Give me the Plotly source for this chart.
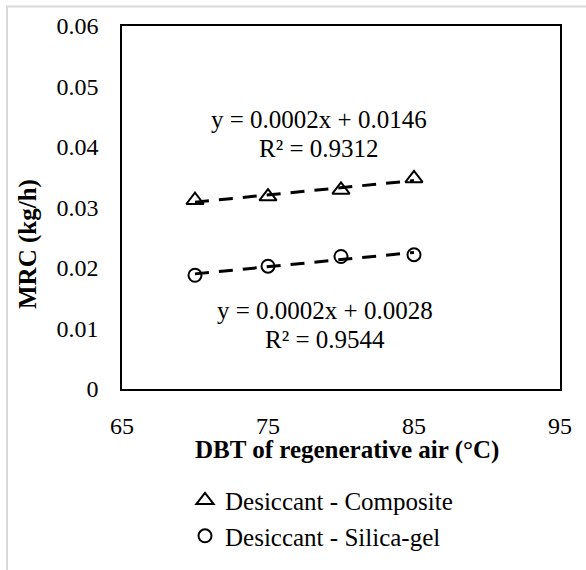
import numpy as np
import plotly.graph_objects as go

# Regeneration air dry-bulb temperature (°C)
dbt = [70, 75, 80, 85]
# Moisture removal capacity (kg/h)
mrc_composite = [0.0312, 0.0318, 0.0329, 0.0348]
mrc_silica = [0.0188, 0.0203, 0.0219, 0.0222]

series_names = ["Desiccant - Composite", "Desiccant - Silica-gel"]
eq_composite = ["y = 0.0002x + 0.0146", "R² = 0.9312"]
eq_silica = ["y = 0.0002x + 0.0028", "R² = 0.9544"]

x_ticks = [65, 75, 85, 95]
y_ticks = [0, 0.01, 0.02, 0.03, 0.04, 0.05, 0.06]
y_tick_text = ["0", "0.01", "0.02", "0.03", "0.04", "0.05", "0.06"]

FONT = "Liberation Serif"
W, H = 586, 570
L, R, T, B = 122, 26, 26, 171
pw, ph = W - L - R, H - T - B


def px_to_paper(x, y):
    return (x - L) / pw, 1 - (y - T) / ph


fig = go.Figure()

fig.add_trace(go.Scatter(
    x=dbt, y=mrc_composite, mode="markers", name=series_names[0],
    marker=dict(symbol="triangle-up-open", size=15, color="black",
                line=dict(width=2, color="black")),
))
fig.add_trace(go.Scatter(
    x=dbt, y=mrc_silica, mode="markers", name=series_names[1],
    marker=dict(symbol="circle-open", size=13, color="black",
                line=dict(width=2, color="black")),
))

# Linear trendlines fitted to each series
xs = np.array([min(dbt), max(dbt)], dtype=float)
for ys in (mrc_composite, mrc_silica):
    k, b = np.polyfit(dbt, ys, 1)
    fig.add_trace(go.Scatter(
        x=xs, y=k * xs + b, mode="lines", showlegend=False,
        line=dict(color="black", width=3, dash="14px,10px"),
        hoverinfo="skip",
    ))

annotations = []
for (line1, line2), (cx, y1, y2) in (
    (eq_composite, (319, 122, 152)),
    (eq_silica, (325, 318, 348)),
):
    for txt, yy in ((line1, y1), (line2, y2)):
        px, py = px_to_paper(cx, yy)
        annotations.append(dict(
            x=px, y=py, xref="paper", yref="paper", text=txt,
            showarrow=False, xanchor="center", yanchor="middle",
            font=dict(family=FONT, size=25, color="black"),
        ))

# Axis titles
px, py = px_to_paper(347, 462)
annotations.append(dict(
    x=px, y=py, xref="paper", yref="paper",
    text="<b>DBT of regenerative air (°C)</b>", showarrow=False,
    xanchor="center", yanchor="middle",
    font=dict(family=FONT, size=25, color="black"),
))
px, py = px_to_paper(28, 250)
annotations.append(dict(
    x=px, y=py, xref="paper", yref="paper",
    text="<b>MRC (kg/h)</b>", showarrow=False, textangle=-90,
    xanchor="center", yanchor="middle",
    font=dict(family=FONT, size=25, color="black"),
))

# Light outer frame of the chart area
fx0, fy1 = px_to_paper(7, 6)
fx1, fy0 = px_to_paper(600, 600)
shapes = [dict(type="rect", xref="paper", yref="paper",
               x0=fx0, x1=fx1, y0=fy0, y1=fy1,
               line=dict(color="#d9d9d9", width=2), layer="below")]

lx, ly = px_to_paper(185, 490)

fig.update_layout(
    width=W, height=H,
    margin=dict(l=L, r=R, t=T, b=B, pad=0),
    paper_bgcolor="white", plot_bgcolor="white",
    font=dict(family=FONT, size=24, color="black"),
    showlegend=True,
    legend=dict(x=lx, y=ly, xanchor="left", yanchor="top",
                bgcolor="rgba(0,0,0,0)", itemwidth=30,
                font=dict(family=FONT, size=25, color="black")),
    annotations=annotations,
    shapes=shapes,
    xaxis=dict(range=[65, 95], tickvals=x_ticks, showgrid=False,
               zeroline=False, showline=True, linecolor="black",
               linewidth=1.5, mirror=True, ticks="",
               ticklabelstandoff=14,
               tickfont=dict(family=FONT, size=24, color="black")),
    yaxis=dict(range=[0, 0.06], tickvals=y_ticks, ticktext=y_tick_text,
               showgrid=False, zeroline=False, showline=True,
               linecolor="black", linewidth=1.5, mirror=True, ticks="",
               ticklabelstandoff=17,
               tickfont=dict(family=FONT, size=24, color="black")),
)

fig.write_html("out.html")
